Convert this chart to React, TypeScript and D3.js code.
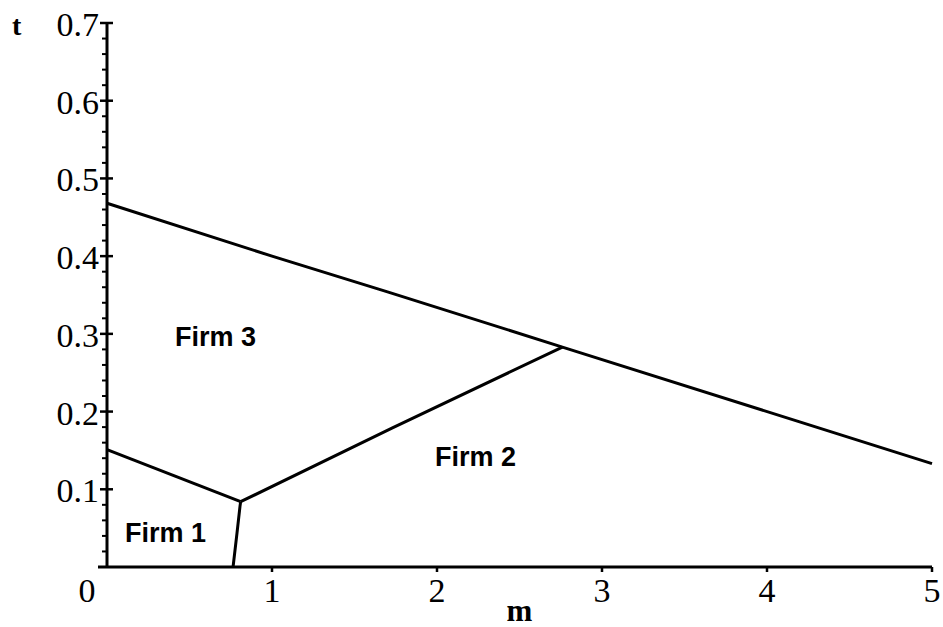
import React from "react";
import * as d3 from "d3";

// Boundary curves (m on x, t on y)
const upperM = [0, 1, 1.7, 2.76, 4.15, 5];
const upperT = [0.468, 0.4, 0.354, 0.283, 0.19, 0.133];

const firm23M = [0.81, 1.73, 2.76];
const firm23T = [0.084, 0.179, 0.283];

const firm13M = [0, 0.81];
const firm13T = [0.151, 0.084];

const firm12M = [0.764, 0.788, 0.806, 0.81];
const firm12T = [0, 0.044, 0.078, 0.084];

const xTicks = [0, 1, 2, 3, 4, 5];
const yTicks = [0.1, 0.2, 0.3, 0.4, 0.5, 0.6, 0.7];
const yMinorTicks = d3.range(1, 35).map((i) => i * 0.02).filter((v) => Math.abs(v * 10 - Math.round(v * 10)) > 1e-6);

const regionNames = ["Firm 3", "Firm 2", "Firm 1"];
const regionM = [0.412, 1.988, 0.109];
const regionT = [0.284, 0.13, 0.032];

const W = 943;
const H = 627;

export default function App() {
  const x = d3.scaleLinear().domain([0, 5]).range([107, 932]);
  const y = d3.scaleLinear().domain([0, 0.7]).range([567, 23]);

  const line = d3
    .line<[number, number]>()
    .x((d) => x(d[0]))
    .y((d) => y(d[1]));

  const zip = (a: number[], b: number[]) => a.map((v, i) => [v, b[i]] as [number, number]);

  const curves = [
    zip(upperM, upperT),
    zip(firm23M, firm23T),
    zip(firm13M, firm13T),
    zip(firm12M, firm12T),
  ];

  const serif = "'Liberation Serif', 'Times New Roman', serif";
  const sans = "'Liberation Sans', Arial, sans-serif";

  return (
    <svg
      width={W}
      height={H}
      style={{ position: "absolute", left: 0, top: 0, background: "#fff" }}
    >
      <rect x={0} y={0} width={W} height={H} fill="#fff" />
      {/* curves */}
      {curves.map((c, i) => (
        <path key={i} d={line(c) || ""} fill="none" stroke="#000" strokeWidth={3} />
      ))}

      {/* y axis */}
      <line x1={x(0)} x2={x(0)} y1={y(0)} y2={y(0.7)} stroke="#000" strokeWidth={3} />
      {yMinorTicks.map((v, i) => (
        <line key={"m" + i} x1={x(0) - 5} x2={x(0)} y1={y(v)} y2={y(v)} stroke="#000" strokeWidth={2} />
      ))}
      {yTicks.map((v) => (
        <g key={"y" + v}>
          <line x1={x(0) - 7} x2={x(0) + 6} y1={y(v)} y2={y(v)} stroke="#000" strokeWidth={2.5} />
          <text
            x={x(0) - 8}
            y={y(v) + 13}
            textAnchor="end"
            fontFamily={serif}
            fontSize={34}
            fill="#000"
          >
            {d3.format(".1f")(v)}
          </text>
        </g>
      ))}

      {/* x axis */}
      <line x1={x(0) - 9} x2={x(5)} y1={y(0)} y2={y(0)} stroke="#000" strokeWidth={3} />
      {xTicks.map((v) => (
        <g key={"x" + v}>
          {v > 0 && (
            <line x1={x(v)} x2={x(v)} y1={y(0)} y2={y(0) + 5} stroke="#000" strokeWidth={2.5} />
          )}
          <text
            x={v === 0 ? x(v) - 20 : x(v)}
            y={y(0) + 35}
            textAnchor="middle"
            fontFamily={serif}
            fontSize={34}
            fill="#000"
          >
            {v}
          </text>
        </g>
      ))}

      {/* axis titles */}
      <text x={12} y={35} fontFamily={serif} fontWeight="bold" fontSize={28} fill="#000">
        t
      </text>
      <text
        x={(x(2) + x(3)) / 2}
        y={621}
        textAnchor="middle"
        fontFamily={serif}
        fontWeight="bold"
        fontSize={31}
        fill="#000"
      >
        m
      </text>

      {/* region labels */}
      {regionNames.map((n, i) => (
        <text
          key={n}
          x={x(regionM[i])}
          y={y(regionT[i])}
          fontFamily={sans}
          fontWeight="bold"
          fontSize={27}
          fill="#000"
        >
          {n}
        </text>
      ))}
    </svg>
  );
}
